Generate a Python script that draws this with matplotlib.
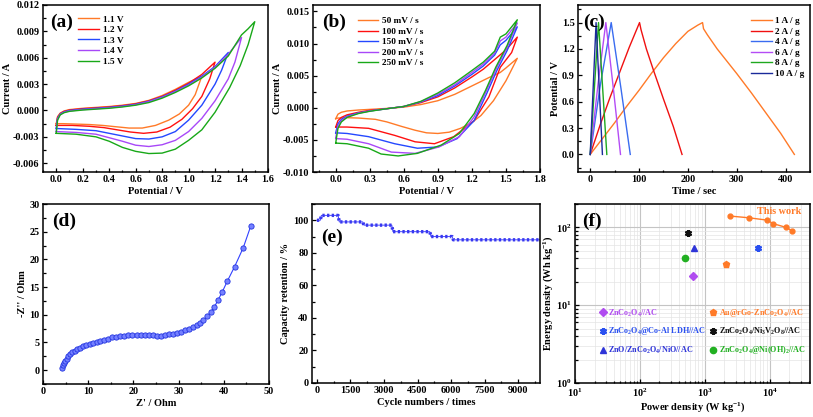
import numpy as np
import matplotlib
matplotlib.use("Agg")
import matplotlib.pyplot as plt
from matplotlib.ticker import MultipleLocator, LogLocator, NullFormatter

plt.rcParams["font.family"] = "Liberation Serif"
plt.rcParams["font.weight"] = "bold"
plt.rcParams["axes.labelweight"] = "bold"
plt.rcParams["mathtext.fontset"] = "custom"
plt.rcParams["mathtext.rm"] = "Liberation Serif:bold"
plt.rcParams["mathtext.it"] = "Liberation Serif:bold:italic"
plt.rcParams["mathtext.bf"] = "Liberation Serif:bold"
plt.rcParams["axes.linewidth"] = 1.1

# ---- (a) CV at different potential windows (current in mA) ----
a_labels = ["1.1 V", "1.2 V", "1.3 V", "1.4 V", "1.5 V"]
a11_v = [0, 0.01, 0.03, 0.06, 0.1, 0.2, 0.3, 0.4, 0.5, 0.6, 0.7, 0.8, 0.9, 1.0, 1.1,
         1.05, 1.0, 0.93, 0.85, 0.75, 0.65, 0.55, 0.45, 0.35, 0.25, 0.15, 0.05, 0]
a11_i = [-1.5, -0.7, -0.3, -0.05, 0.1, 0.25, 0.35, 0.45, 0.6, 0.8, 1.15, 1.7, 2.4, 3.2, 3.9,
         1.8, 0.6, -0.4, -1.1, -1.7, -2.0, -2.0, -1.85, -1.7, -1.6, -1.55, -1.5, -1.5]
a12_v = [0, 0.01, 0.03, 0.06, 0.1, 0.2, 0.3, 0.4, 0.5, 0.6, 0.7, 0.8, 0.9, 1.0, 1.1, 1.2,
         1.16, 1.1, 1.03, 0.95, 0.86, 0.76, 0.66, 0.56, 0.46, 0.36, 0.25, 0.12, 0]
a12_i = [-1.7, -0.8, -0.35, -0.1, 0.05, 0.2, 0.3, 0.4, 0.55, 0.75, 1.1, 1.6, 2.3, 3.1, 4.1, 5.5,
         3.6, 1.6, 0.2, -1.0, -1.9, -2.45, -2.6, -2.45, -2.2, -1.95, -1.8, -1.7, -1.7]
a13_v = [0, 0.01, 0.03, 0.06, 0.1, 0.2, 0.3, 0.4, 0.5, 0.6, 0.7, 0.8, 0.9, 1.0, 1.1, 1.2, 1.3,
         1.25, 1.2, 1.1, 1.0, 0.9, 0.8, 0.7, 0.6, 0.5, 0.4, 0.3, 0.15, 0]
a13_i = [-2.0, -0.9, -0.4, -0.15, 0.0, 0.15, 0.25, 0.35, 0.5, 0.7, 1.05, 1.55, 2.2, 3.0, 3.9, 5.0, 6.6,
         4.6, 3.0, 0.6, -1.1, -2.4, -3.0, -3.25, -3.2, -2.9, -2.6, -2.3, -2.15, -2.05]
a14_v = [0, 0.01, 0.03, 0.06, 0.1, 0.2, 0.3, 0.4, 0.5, 0.6, 0.7, 0.8, 0.9, 1.0, 1.1, 1.2, 1.3, 1.4,
         1.35, 1.3, 1.2, 1.1, 1.0, 0.9, 0.8, 0.7, 0.6, 0.5, 0.4, 0.3, 0.15, 0]
a14_i = [-2.4, -1.0, -0.45, -0.2, -0.05, 0.1, 0.2, 0.3, 0.45, 0.65, 1.0, 1.5, 2.15, 2.9, 3.8, 4.9, 6.4, 8.3,
         5.5, 3.6, 1.1, -0.9, -2.4, -3.4, -3.9, -4.1, -3.95, -3.5, -3.1, -2.7, -2.5, -2.4]
a15_v = [0, 0.01, 0.03, 0.06, 0.1, 0.2, 0.3, 0.4, 0.5, 0.6, 0.7, 0.8, 0.9, 1.0, 1.1, 1.2, 1.3, 1.4, 1.45, 1.5,
         1.45, 1.39, 1.31, 1.2, 1.1, 1.0, 0.9, 0.8, 0.7, 0.6, 0.5, 0.4, 0.3, 0.15, 0]
a15_i = [-2.6, -1.1, -0.5, -0.25, -0.1, 0.05, 0.15, 0.25, 0.4, 0.6, 0.9, 1.4, 2.05, 2.8, 3.7, 4.8, 6.2, 8.6, 9.3, 10.1,
         7.5, 5.1, 2.6, -0.2, -2.2, -3.4, -4.4, -4.85, -4.9, -4.65, -4.2, -3.5, -3.0, -2.7, -2.6]

# ---- (b) CV at different scan rates (current in mA) ----
b_labels = ["50 mV / s", "100 mV / s", "150 mV / s", "200 mV / s", "250 mV / s"]
b50_v = [0, 0.02, 0.05, 0.1, 0.2, 0.3, 0.45, 0.6, 0.75, 0.9, 1.05, 1.2, 1.35, 1.45, 1.5, 1.6,
         1.5, 1.39, 1.28, 1.2, 1.1, 1.0, 0.9, 0.8, 0.7, 0.58, 0.45, 0.35, 0.2, 0.1, 0.02, 0]
b50_i = [-1.7, -1.0, -0.7, -0.5, -0.35, -0.25, -0.1, 0.1, 0.5, 1.1, 2.1, 3.4, 4.7, 5.5, 6.2, 7.7,
         4.2, 1.1, -1.2, -2.3, -3.2, -3.8, -4.0, -3.9, -3.5, -2.9, -2.2, -1.8, -1.6, -1.55, -1.6, -1.7]
b100_v = [0, 0.02, 0.05, 0.1, 0.2, 0.3, 0.45, 0.6, 0.75, 0.9, 1.05, 1.2, 1.3, 1.4, 1.5, 1.6,
          1.55, 1.45, 1.35, 1.22, 1.04, 0.87, 0.7, 0.52, 0.29, 0.1, 0]
b100_i = [-3.0, -2.0, -1.5, -1.1, -0.7, -0.4, -0.15, 0.2, 0.8, 1.7, 3.1, 4.8, 6.0, 7.5, 9.0, 11.0,
          8.6, 6.3, 1.7, -2.0, -4.5, -5.6, -5.3, -4.3, -3.2, -3.0, -3.0]
b150_v = [0, 0.02, 0.05, 0.1, 0.2, 0.3, 0.45, 0.6, 0.75, 0.9, 1.05, 1.2, 1.3, 1.4, 1.45, 1.5, 1.6,
          1.51, 1.42, 1.33, 1.22, 1.07, 0.9, 0.72, 0.52, 0.29, 0.1, 0]
b150_i = [-3.9, -2.5, -1.8, -1.3, -0.8, -0.5, -0.15, 0.2, 0.9, 1.9, 3.4, 5.2, 6.5, 8.2, 9.8, 10.5, 12.6,
          8.9, 5.8, 2.2, -2.0, -4.8, -6.1, -6.3, -5.6, -4.5, -4.0, -3.9]
b200_v = [0, 0.02, 0.05, 0.1, 0.2, 0.3, 0.45, 0.6, 0.75, 0.9, 1.05, 1.2, 1.3, 1.4, 1.45, 1.5, 1.6,
          1.51, 1.42, 1.33, 1.22, 1.09, 0.91, 0.7, 0.49, 0.29, 0.1, 0]
b200_i = [-4.7, -2.8, -2.0, -1.4, -0.85, -0.5, -0.15, 0.2, 0.95, 2.1, 3.6, 5.5, 6.8, 8.5, 10.4, 11.0, 13.2,
          9.4, 6.3, 2.7, -1.4, -4.5, -6.1, -7.1, -6.9, -5.6, -4.9, -4.8]
b250_v = [0, 0.02, 0.05, 0.1, 0.2, 0.3, 0.45, 0.6, 0.75, 0.9, 1.05, 1.2, 1.3, 1.4, 1.45, 1.5, 1.6,
          1.51, 1.41, 1.32, 1.22, 1.09, 0.93, 0.72, 0.55, 0.4, 0.29, 0.1, 0]
b250_i = [-5.5, -3.2, -2.2, -1.5, -0.9, -0.55, -0.15, 0.2, 1.0, 2.3, 3.9, 5.8, 7.1, 8.8, 11.0, 11.5, 13.7,
          9.7, 6.3, 2.7, -0.9, -4.0, -5.8, -7.1, -7.5, -7.2, -6.3, -5.6, -5.5]

# ---- (c) GCD ----
c_labels = ["1 A / g", "2 A / g", "4 A / g", "6 A / g", "8 A / g", "10 A / g"]
c1_t = [0, 25, 50, 75, 100, 125, 150, 175, 200, 220, 230, 232, 240, 260, 280, 300, 330, 360, 390, 418]
c1_v = [0, 0.18, 0.36, 0.55, 0.73, 0.92, 1.1, 1.26, 1.4, 1.47, 1.5, 1.43, 1.36, 1.2, 1.06, 0.92, 0.7, 0.47, 0.24, 0]
c2_t = [0, 20, 40, 60, 80, 95, 101, 104, 115, 130, 150, 170, 188]
c2_v = [0, 0.33, 0.64, 0.93, 1.22, 1.42, 1.5, 1.42, 1.2, 0.95, 0.63, 0.32, 0]
c4_t = [0, 21, 43, 63, 82]
c4_v = [0, 0.8, 1.5, 0.75, 0]
c6_t = [0, 16, 32, 47, 62]
c6_v = [0, 0.8, 1.5, 0.77, 0]
c8_t = [0, 17, 34]
c8_v = [0, 1.5, 0]
c10_t = [0, 12, 25]
c10_v = [0, 1.5, 0]

# ---- (d) Nyquist ----
d_zre = [4.2, 4.4, 4.6, 4.9, 5.2, 5.6, 6.0, 6.5, 7.0, 7.6, 8.2, 8.9, 9.6, 10.3, 11.1, 11.9, 12.7, 13.5,
         14.4, 15.3, 16.2, 17.1, 18.0, 18.9, 19.8, 20.7, 21.6, 22.5, 23.4, 24.3, 25.2, 26.1, 27.0, 27.9,
         28.8, 29.7, 30.6, 31.5, 32.4, 33.2, 34.0, 34.8, 35.5, 36.3, 37.1, 37.9, 38.7, 39.7, 40.8, 42.4,
         44.3, 46.0]
d_zim = [0.4, 0.9, 1.3, 1.7, 2.1, 2.5, 2.85, 3.2, 3.5, 3.8, 4.05, 4.3, 4.5, 4.7, 4.9, 5.1, 5.3, 5.5,
         5.7, 5.9, 6.0, 6.15, 6.25, 6.3, 6.35, 6.35, 6.35, 6.35, 6.3, 6.3, 6.25, 6.2, 6.3, 6.45,
         6.6, 6.75, 6.95, 7.2, 7.5, 7.8, 8.15, 8.6, 9.1, 9.7, 10.5, 11.4, 12.6, 14.2, 16.1, 18.7,
         22.1, 26.1]

# ---- (e) cycling ----
e_cycles = [0, 150, 200, 950, 1000, 2050, 2100, 3350, 3400, 5050, 5100, 6050, 6100, 10000]
e_retention = [100, 100, 103, 103, 99, 99, 97, 97, 93, 93, 90, 90, 88, 88]

# ---- (f) Ragone ----
f_this_power = [2450, 4800, 9200, 11300, 18000, 22500]
f_this_energy = [140, 133, 124, 112, 100, 90]
f_ref_labels = [r"ZnCo$_2$O$_4$//AC", r"ZnCo$_2$O$_4$@Co-Al LDH//AC", r"ZnO/ZnCo$_2$O$_4$/NiO//AC",
                r"Au@rGo-ZnCo$_2$O$_4$//AC", r"ZnCo$_2$O$_4$/Ni$_3$V$_2$O$_8$//AC", r"ZnCo$_2$O$_4$@Ni(OH)$_2$//AC"]
f_ref_power = [655, 6550, 695, 2100, 562, 490]
f_ref_energy = [23.6, 55, 53.7, 33.4, 85, 40]

cv_colors = ["#FF7A28", "#FF1010", "#2448FF", "#A848F8", "#18A818"]
gcd_colors = ["#FF7A28", "#F01010", "#3A6CF0", "#B44CF5", "#1FA81F", "#1A2A9A"]
f_colors = ["#B04CF0", "#2A50F0", "#2E34D8", "#FF7A28", "#111111", "#22B022"]
f_markers = ["D", (6, 2, 0), "^", "p", (6, 2, 0), "o"]

TFS = 7.3
LFS = 7.5
PFS = 14

fig = plt.figure(figsize=(8.13, 4.17), dpi=100)
W, H = 813.0, 417.0


def add_ax(l, t, r, b, **kw):
    return fig.add_axes([l / W, 1 - b / H, (r - l) / W, (b - t) / H], **kw)


def style(ax):
    ax.tick_params(which="both", direction="in", labelsize=TFS, width=0.9, pad=2.5)
    ax.tick_params(which="major", length=3)
    ax.tick_params(which="minor", length=1.8)
    for lab in ax.get_xticklabels() + ax.get_yticklabels():
        lab.set_fontweight("bold")


def panel_label(ax, s, x, y):
    ax.text(x, y, s, transform=ax.transAxes, fontsize=PFS, fontweight="bold", va="top", ha="left")


# (a)
ax = add_ax(43, 5, 268, 172)
for v, i, lab, col in zip([a11_v, a12_v, a13_v, a14_v, a15_v],
                          [a11_i, a12_i, a13_i, a14_i, a15_i], a_labels, cv_colors):
    ax.plot(v, np.array(i) * 1e-3, color=col, lw=1.0, label=lab)
ax.set_xlim(-0.1, 1.6)
ax.set_ylim(-0.007, 0.012)
ax.xaxis.set_major_locator(MultipleLocator(0.2))
ax.xaxis.set_minor_locator(MultipleLocator(0.1))
ax.yaxis.set_major_locator(MultipleLocator(0.003))
ax.yaxis.set_minor_locator(MultipleLocator(0.0015))
ax.xaxis.set_major_formatter(plt.FuncFormatter(lambda x, p: f"{x:.1f}"))
ax.yaxis.set_major_formatter(plt.FuncFormatter(lambda x, p: f"{x:.3f}"))
ax.set_xlabel("Potential / V", fontsize=LFS, labelpad=2)
ax.set_ylabel("Current / A", fontsize=LFS, labelpad=1)
style(ax)
ax.legend(loc="upper left", bbox_to_anchor=(0.12, 0.99), frameon=False, fontsize=TFS - 0.6,
          handlelength=2.2, labelspacing=0.22, handletextpad=0.4)
panel_label(ax, "(a)", 0.03, 0.95)

# (b)
ax = add_ax(313, 5, 540, 172)
for v, i, lab, col in zip([b50_v, b100_v, b150_v, b200_v, b250_v],
                          [b50_i, b100_i, b150_i, b200_i, b250_i], b_labels, cv_colors):
    ax.plot(v, np.array(i) * 1e-3, color=col, lw=1.0, label=lab)
ax.set_xlim(-0.2, 1.8)
ax.set_ylim(-0.010, 0.016)
ax.xaxis.set_major_locator(MultipleLocator(0.3))
ax.xaxis.set_minor_locator(MultipleLocator(0.15))
ax.yaxis.set_major_locator(MultipleLocator(0.005))
ax.yaxis.set_minor_locator(MultipleLocator(0.0025))
ax.xaxis.set_major_formatter(plt.FuncFormatter(lambda x, p: f"{x:.1f}"))
ax.yaxis.set_major_formatter(plt.FuncFormatter(lambda x, p: f"{x:.3f}"))
ax.set_xlabel("Potential / V", fontsize=LFS, labelpad=2)
ax.set_ylabel("Current / A", fontsize=LFS, labelpad=1)
style(ax)
ax.legend(loc="upper left", bbox_to_anchor=(0.16, 0.98), frameon=False, fontsize=TFS - 0.6,
          handlelength=2.2, labelspacing=0.22, handletextpad=0.4)
panel_label(ax, "(b)", 0.04, 0.95)

# (c)
ax = add_ax(578, 5, 810, 172)
for t, v, lab, col in zip([c1_t, c2_t, c4_t, c6_t, c8_t, c10_t],
                          [c1_v, c2_v, c4_v, c6_v, c8_v, c10_v], c_labels, gcd_colors):
    ax.plot(t, v, color=col, lw=1.0, label=lab)
ax.set_xlim(-25, 450)
ax.set_ylim(-0.2, 1.7)
ax.xaxis.set_major_locator(MultipleLocator(100))
ax.xaxis.set_minor_locator(MultipleLocator(50))
ax.yaxis.set_major_locator(MultipleLocator(0.3))
ax.yaxis.set_minor_locator(MultipleLocator(0.15))
ax.yaxis.set_major_formatter(plt.FuncFormatter(lambda x, p: f"{x:.1f}"))
ax.set_xlabel("Time / sec", fontsize=LFS, labelpad=2)
ax.set_ylabel("Potential / V", fontsize=LFS, labelpad=1)
style(ax)
ax.legend(loc="upper left", bbox_to_anchor=(0.71, 0.98), frameon=False, fontsize=TFS - 0.6,
          handlelength=2.2, labelspacing=0.22, handletextpad=0.4)
panel_label(ax, "(c)", 0.02, 0.95)

# (d)
ax = add_ax(43, 204, 269, 384)
ax.plot(d_zre, d_zim, color="#3040FF", lw=0.8, marker="o", ms=3.8,
        mfc="#7480FF", mec="#2233E0", mew=0.6)
ax.set_xlim(0, 50)
ax.set_ylim(-2.5, 30)
ax.xaxis.set_major_locator(MultipleLocator(10))
ax.xaxis.set_minor_locator(MultipleLocator(5))
ax.yaxis.set_major_locator(MultipleLocator(5))
ax.yaxis.set_minor_locator(MultipleLocator(2.5))
ax.set_xlabel("Z' / Ohm", fontsize=LFS, labelpad=2)
ax.set_ylabel("-Z'' / Ohm", fontsize=LFS, labelpad=2)
style(ax)
panel_label(ax, "(d)", 0.04, 0.95)

# (e)
ax = add_ax(312, 204, 540, 383)
ax.plot(e_cycles, e_retention, color="#4A4AFF", lw=0.7)
ax.plot(e_cycles, e_retention, color="#3838F0", lw=2.4, linestyle=(0, (0.7, 0.7)))
ax.set_xlim(-220, 9980)
ax.set_ylim(0, 110)
ax.xaxis.set_major_locator(MultipleLocator(1500))
ax.xaxis.set_minor_locator(MultipleLocator(750))
ax.yaxis.set_major_locator(MultipleLocator(20))
ax.yaxis.set_minor_locator(MultipleLocator(10))
ax.set_xlabel("Cycle numbers / times", fontsize=LFS, labelpad=2)
ax.set_ylabel("Capacity retention / %", fontsize=LFS, labelpad=2)
style(ax)
panel_label(ax, "(e)", 0.04, 0.86)

# (f)
ax = add_ax(575, 204, 810, 383)
ax.set_xscale("log")
ax.set_yscale("log")
ax.grid(which="major", color="#c4c4c4", lw=0.8)
ax.grid(which="minor", color="#e4e4e4", lw=0.5)
ax.set_axisbelow(True)
ax.plot(f_this_power, f_this_energy, color="#FF7A28", lw=1.0, marker="o", ms=3.5)
ax.text(14000, 160, "This work", color="#FF7A28", fontsize=TFS, ha="center", va="center")
handles = []
for p, e, lab, col, mk in zip(f_ref_power, f_ref_energy, f_ref_labels, f_colors, f_markers):
    if isinstance(mk, tuple):
        h, = ax.plot([p], [e], linestyle="none", marker=mk, ms=5, mec=col, mfc=col, mew=1.6, label=lab)
    else:
        h, = ax.plot([p], [e], linestyle="none", marker=mk, ms=4.5, mec=col, mfc=col, label=lab)
    handles.append(h)
ax.set_xlim(10, 42000)
ax.set_ylim(1, 200)
ax.xaxis.set_major_locator(LogLocator(base=10, numticks=10))
ax.xaxis.set_minor_locator(LogLocator(base=10, subs=np.arange(2, 10), numticks=10))
ax.xaxis.set_minor_formatter(NullFormatter())
ax.yaxis.set_minor_formatter(NullFormatter())
ax.set_xlabel(r"Power density (W kg$^{-1}$)", fontsize=LFS, labelpad=1)
ax.set_ylabel(r"Energy density (Wh kg$^{-1}$)", fontsize=LFS, labelpad=1)
style(ax)
leg = ax.legend(handles=handles, loc="lower left", bbox_to_anchor=(0.09, 0.13), ncol=2, frameon=False,
                fontsize=5.9, handlelength=0.8, handletextpad=0.3, labelspacing=0.85, columnspacing=0.4,
                borderaxespad=0)
for txt, col in zip(leg.get_texts(), f_colors):
    txt.set_color(col)
panel_label(ax, "(f)", 0.03, 0.95)

fig.savefig("out.png", dpi=100)
